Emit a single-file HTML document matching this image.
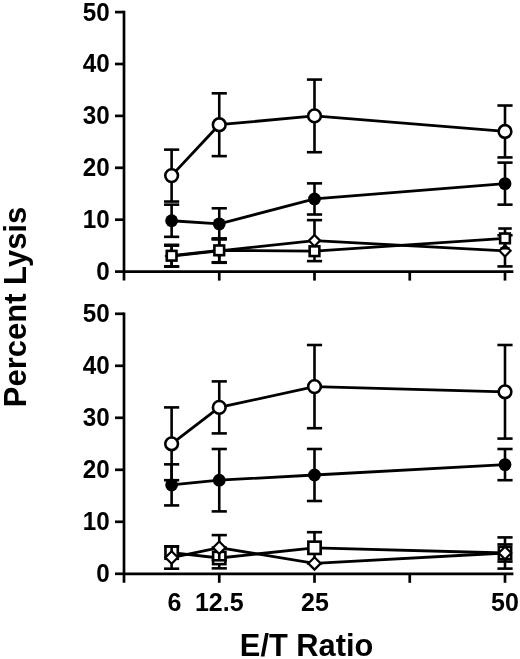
<!DOCTYPE html>
<html><head><meta charset="utf-8"><style>
html,body{margin:0;padding:0;background:#fff;width:520px;height:659px;overflow:hidden}
svg{display:block;will-change:transform}
text{font-family:"Liberation Sans",sans-serif;font-weight:bold;fill:#000}
</style></head><body>
<svg width="520" height="659" viewBox="0 0 520 659">
<g stroke="#000" stroke-linecap="butt" fill="none">
<line x1="124.00" y1="10.75" x2="124.00" y2="280.60" stroke-width="2.7"/>
<line x1="115.00" y1="271.60" x2="124.00" y2="271.60" stroke-width="2.7"/>
<line x1="115.00" y1="219.70" x2="124.00" y2="219.70" stroke-width="2.7"/>
<line x1="115.00" y1="167.80" x2="124.00" y2="167.80" stroke-width="2.7"/>
<line x1="115.00" y1="115.90" x2="124.00" y2="115.90" stroke-width="2.7"/>
<line x1="115.00" y1="64.00" x2="124.00" y2="64.00" stroke-width="2.7"/>
<line x1="115.00" y1="12.10" x2="124.00" y2="12.10" stroke-width="2.7"/>
<line x1="124.00" y1="271.60" x2="513.38" y2="271.60" stroke-width="2.7"/>
<line x1="219.25" y1="271.60" x2="219.25" y2="280.60" stroke-width="2.7"/>
<line x1="314.50" y1="271.60" x2="314.50" y2="280.60" stroke-width="2.7"/>
<line x1="409.75" y1="271.60" x2="409.75" y2="280.60" stroke-width="2.7"/>
<line x1="505.00" y1="271.60" x2="505.00" y2="280.60" stroke-width="2.7"/>
</g>
<text transform="translate(109.8,280.00) scale(0.97,1)" font-size="25" text-anchor="end">0</text>
<text transform="translate(109.8,228.10) scale(0.97,1)" font-size="25" text-anchor="end">10</text>
<text transform="translate(109.8,176.20) scale(0.97,1)" font-size="25" text-anchor="end">20</text>
<text transform="translate(109.8,124.30) scale(0.97,1)" font-size="25" text-anchor="end">30</text>
<text transform="translate(109.8,72.40) scale(0.97,1)" font-size="25" text-anchor="end">40</text>
<text transform="translate(109.8,20.50) scale(0.97,1)" font-size="25" text-anchor="end">50</text>
<g stroke="#000" fill="none" stroke-linejoin="miter">
<line x1="171.62" y1="245.65" x2="171.62" y2="266.41" stroke-width="2.6"/>
<line x1="164.03" y1="245.65" x2="179.22" y2="245.65" stroke-width="2.6"/>
<line x1="164.03" y1="266.41" x2="179.22" y2="266.41" stroke-width="2.6"/>
<line x1="219.25" y1="238.90" x2="219.25" y2="262.78" stroke-width="2.6"/>
<line x1="211.65" y1="238.90" x2="226.85" y2="238.90" stroke-width="2.6"/>
<line x1="211.65" y1="262.78" x2="226.85" y2="262.78" stroke-width="2.6"/>
<line x1="314.50" y1="220.12" x2="314.50" y2="261.12" stroke-width="2.6"/>
<line x1="306.90" y1="220.12" x2="322.10" y2="220.12" stroke-width="2.6"/>
<line x1="306.90" y1="261.12" x2="322.10" y2="261.12" stroke-width="2.6"/>
<line x1="505.00" y1="235.27" x2="505.00" y2="266.41" stroke-width="2.6"/>
<line x1="497.40" y1="235.27" x2="512.60" y2="235.27" stroke-width="2.6"/>
<line x1="497.40" y1="266.41" x2="512.60" y2="266.41" stroke-width="2.6"/>
<polyline points="171.62,256.03 219.25,250.84 314.50,240.62 505.00,250.84" stroke-width="2.8"/>
<path d="M171.62,250.43 L177.22,256.03 L171.62,261.63 L166.03,256.03 Z" fill="#fff" stroke-width="2.2"/>
<path d="M219.25,245.24 L224.85,250.84 L219.25,256.44 L213.65,250.84 Z" fill="#fff" stroke-width="2.2"/>
<path d="M314.50,235.02 L320.10,240.62 L314.50,246.22 L308.90,240.62 Z" fill="#fff" stroke-width="2.2"/>
<path d="M505.00,245.24 L510.60,250.84 L505.00,256.44 L499.40,250.84 Z" fill="#fff" stroke-width="2.2"/>
</g>
<g stroke="#000" fill="none" stroke-linejoin="miter">
<line x1="171.62" y1="244.82" x2="171.62" y2="266.62" stroke-width="2.6"/>
<line x1="164.03" y1="244.82" x2="179.22" y2="244.82" stroke-width="2.6"/>
<line x1="164.03" y1="266.62" x2="179.22" y2="266.62" stroke-width="2.6"/>
<line x1="219.25" y1="238.38" x2="219.25" y2="262.26" stroke-width="2.6"/>
<line x1="211.65" y1="238.38" x2="226.85" y2="238.38" stroke-width="2.6"/>
<line x1="211.65" y1="262.26" x2="226.85" y2="262.26" stroke-width="2.6"/>
<line x1="505.00" y1="228.52" x2="505.00" y2="248.25" stroke-width="2.6"/>
<line x1="498.25" y1="228.52" x2="511.75" y2="228.52" stroke-width="2.6"/>
<line x1="500.50" y1="248.25" x2="509.50" y2="248.25" stroke-width="2.6"/>
<polyline points="171.62,255.72 219.25,250.32 314.50,251.20 505.00,238.38" stroke-width="2.8"/>
<rect x="166.78" y="250.87" width="9.7" height="9.7" fill="#fff" stroke-width="2.6"/>
<rect x="214.40" y="245.47" width="9.7" height="9.7" fill="#fff" stroke-width="2.6"/>
<rect x="309.65" y="246.35" width="9.7" height="9.7" fill="#fff" stroke-width="2.6"/>
<rect x="500.15" y="233.53" width="9.7" height="9.7" fill="#fff" stroke-width="2.6"/>
</g>
<g stroke="#000" fill="none" stroke-linejoin="miter">
<line x1="171.62" y1="204.65" x2="171.62" y2="236.83" stroke-width="2.6"/>
<line x1="164.03" y1="204.65" x2="179.22" y2="204.65" stroke-width="2.6"/>
<line x1="164.03" y1="236.83" x2="179.22" y2="236.83" stroke-width="2.6"/>
<line x1="219.25" y1="208.28" x2="219.25" y2="239.42" stroke-width="2.6"/>
<line x1="211.65" y1="208.28" x2="226.85" y2="208.28" stroke-width="2.6"/>
<line x1="211.65" y1="239.42" x2="226.85" y2="239.42" stroke-width="2.6"/>
<line x1="314.50" y1="183.37" x2="314.50" y2="214.51" stroke-width="2.6"/>
<line x1="306.90" y1="183.37" x2="322.10" y2="183.37" stroke-width="2.6"/>
<line x1="306.90" y1="214.51" x2="322.10" y2="214.51" stroke-width="2.6"/>
<line x1="505.00" y1="162.61" x2="505.00" y2="204.65" stroke-width="2.6"/>
<line x1="497.40" y1="162.61" x2="512.60" y2="162.61" stroke-width="2.6"/>
<line x1="497.40" y1="204.65" x2="512.60" y2="204.65" stroke-width="2.6"/>
<polyline points="171.62,220.74 219.25,223.85 314.50,198.94 505.00,183.63" stroke-width="2.8"/>
<circle cx="171.62" cy="220.74" r="6.4" fill="#000" stroke="none"/>
<circle cx="219.25" cy="223.85" r="6.4" fill="#000" stroke="none"/>
<circle cx="314.50" cy="198.94" r="6.4" fill="#000" stroke="none"/>
<circle cx="505.00" cy="183.63" r="6.4" fill="#000" stroke="none"/>
</g>
<g stroke="#000" fill="none" stroke-linejoin="miter">
<line x1="171.62" y1="149.64" x2="171.62" y2="201.54" stroke-width="2.6"/>
<line x1="164.03" y1="149.64" x2="179.22" y2="149.64" stroke-width="2.6"/>
<line x1="164.03" y1="201.54" x2="179.22" y2="201.54" stroke-width="2.6"/>
<line x1="219.25" y1="93.32" x2="219.25" y2="156.12" stroke-width="2.6"/>
<line x1="211.65" y1="93.32" x2="226.85" y2="93.32" stroke-width="2.6"/>
<line x1="211.65" y1="156.12" x2="226.85" y2="156.12" stroke-width="2.6"/>
<line x1="314.50" y1="79.57" x2="314.50" y2="152.23" stroke-width="2.6"/>
<line x1="306.90" y1="79.57" x2="322.10" y2="79.57" stroke-width="2.6"/>
<line x1="306.90" y1="152.23" x2="322.10" y2="152.23" stroke-width="2.6"/>
<line x1="505.00" y1="105.52" x2="505.00" y2="157.42" stroke-width="2.6"/>
<line x1="497.40" y1="105.52" x2="512.60" y2="105.52" stroke-width="2.6"/>
<line x1="497.40" y1="157.42" x2="512.60" y2="157.42" stroke-width="2.6"/>
<polyline points="171.62,175.59 219.25,124.72 314.50,115.90 505.00,131.47" stroke-width="2.8"/>
<circle cx="171.62" cy="175.59" r="6.35" fill="#fff" stroke-width="2.6"/>
<circle cx="219.25" cy="124.72" r="6.35" fill="#fff" stroke-width="2.6"/>
<circle cx="314.50" cy="115.90" r="6.35" fill="#fff" stroke-width="2.6"/>
<circle cx="505.00" cy="131.47" r="6.35" fill="#fff" stroke-width="2.6"/>
</g>
<g stroke="#000" stroke-linecap="butt" fill="none">
<line x1="124.00" y1="312.45" x2="124.00" y2="582.80" stroke-width="2.7"/>
<line x1="115.00" y1="573.80" x2="124.00" y2="573.80" stroke-width="2.7"/>
<line x1="115.00" y1="521.80" x2="124.00" y2="521.80" stroke-width="2.7"/>
<line x1="115.00" y1="469.80" x2="124.00" y2="469.80" stroke-width="2.7"/>
<line x1="115.00" y1="417.80" x2="124.00" y2="417.80" stroke-width="2.7"/>
<line x1="115.00" y1="365.80" x2="124.00" y2="365.80" stroke-width="2.7"/>
<line x1="115.00" y1="313.80" x2="124.00" y2="313.80" stroke-width="2.7"/>
<line x1="124.00" y1="573.80" x2="513.38" y2="573.80" stroke-width="2.7"/>
<line x1="219.25" y1="573.80" x2="219.25" y2="582.80" stroke-width="2.7"/>
<line x1="314.50" y1="573.80" x2="314.50" y2="582.80" stroke-width="2.7"/>
<line x1="409.75" y1="573.80" x2="409.75" y2="582.80" stroke-width="2.7"/>
<line x1="505.00" y1="573.80" x2="505.00" y2="582.80" stroke-width="2.7"/>
</g>
<text transform="translate(109.8,582.20) scale(0.97,1)" font-size="25" text-anchor="end">0</text>
<text transform="translate(109.8,530.20) scale(0.97,1)" font-size="25" text-anchor="end">10</text>
<text transform="translate(109.8,478.20) scale(0.97,1)" font-size="25" text-anchor="end">20</text>
<text transform="translate(109.8,426.20) scale(0.97,1)" font-size="25" text-anchor="end">30</text>
<text transform="translate(109.8,374.20) scale(0.97,1)" font-size="25" text-anchor="end">40</text>
<text transform="translate(109.8,322.20) scale(0.97,1)" font-size="25" text-anchor="end">50</text>
<g stroke="#000" fill="none" stroke-linejoin="miter">
<line x1="219.25" y1="547.64" x2="219.25" y2="568.34" stroke-width="2.6"/>
<line x1="211.65" y1="547.64" x2="226.85" y2="547.64" stroke-width="2.6"/>
<line x1="211.65" y1="568.34" x2="226.85" y2="568.34" stroke-width="2.6"/>
<line x1="314.50" y1="532.20" x2="314.50" y2="563.40" stroke-width="2.6"/>
<line x1="306.90" y1="532.20" x2="322.10" y2="532.20" stroke-width="2.6"/>
<line x1="306.90" y1="563.40" x2="322.10" y2="563.40" stroke-width="2.6"/>
<line x1="505.00" y1="537.40" x2="505.00" y2="568.60" stroke-width="2.6"/>
<line x1="497.40" y1="537.40" x2="512.60" y2="537.40" stroke-width="2.6"/>
<line x1="497.40" y1="568.60" x2="512.60" y2="568.60" stroke-width="2.6"/>
<polyline points="171.62,552.64 219.25,557.99 314.50,547.80 505.00,553.00" stroke-width="2.8"/>
<rect x="165.47" y="546.49" width="12.3" height="12.3" fill="#fff" stroke-width="2.6"/>
<rect x="213.10" y="551.84" width="12.3" height="12.3" fill="#fff" stroke-width="2.6"/>
<rect x="308.35" y="541.65" width="12.3" height="12.3" fill="#fff" stroke-width="2.6"/>
<rect x="498.85" y="546.85" width="12.3" height="12.3" fill="#fff" stroke-width="2.6"/>
</g>
<g stroke="#000" fill="none" stroke-linejoin="miter">
<line x1="171.62" y1="546.34" x2="171.62" y2="568.70" stroke-width="2.6"/>
<line x1="164.03" y1="546.34" x2="179.22" y2="546.34" stroke-width="2.6"/>
<line x1="164.03" y1="568.70" x2="179.22" y2="568.70" stroke-width="2.6"/>
<line x1="219.25" y1="535.11" x2="219.25" y2="560.28" stroke-width="2.6"/>
<line x1="211.65" y1="535.11" x2="226.85" y2="535.11" stroke-width="2.6"/>
<line x1="211.65" y1="560.28" x2="226.85" y2="560.28" stroke-width="2.6"/>
<line x1="505.00" y1="544.42" x2="505.00" y2="561.58" stroke-width="2.6"/>
<line x1="497.40" y1="544.42" x2="512.60" y2="544.42" stroke-width="2.6"/>
<line x1="497.40" y1="561.58" x2="512.60" y2="561.58" stroke-width="2.6"/>
<polyline points="171.62,557.52 219.25,547.70 314.50,563.40 505.00,553.00" stroke-width="2.8"/>
<path d="M171.62,551.32 L177.82,557.52 L171.62,563.72 L165.43,557.52 Z" fill="#fff" stroke-width="2.2"/>
<path d="M219.25,541.50 L225.45,547.70 L219.25,553.90 L213.05,547.70 Z" fill="#fff" stroke-width="2.2"/>
<path d="M314.50,557.20 L320.70,563.40 L314.50,569.60 L308.30,563.40 Z" fill="#fff" stroke-width="2.2"/>
<path d="M505.00,546.80 L511.20,553.00 L505.00,559.20 L498.80,553.00 Z" fill="#fff" stroke-width="2.2"/>
</g>
<g stroke="#000" fill="none" stroke-linejoin="miter">
<line x1="171.62" y1="464.34" x2="171.62" y2="505.42" stroke-width="2.6"/>
<line x1="164.03" y1="464.34" x2="179.22" y2="464.34" stroke-width="2.6"/>
<line x1="164.03" y1="505.42" x2="179.22" y2="505.42" stroke-width="2.6"/>
<line x1="219.25" y1="449.00" x2="219.25" y2="511.40" stroke-width="2.6"/>
<line x1="211.65" y1="449.00" x2="226.85" y2="449.00" stroke-width="2.6"/>
<line x1="211.65" y1="511.40" x2="226.85" y2="511.40" stroke-width="2.6"/>
<line x1="314.50" y1="449.00" x2="314.50" y2="501.00" stroke-width="2.6"/>
<line x1="306.90" y1="449.00" x2="322.10" y2="449.00" stroke-width="2.6"/>
<line x1="306.90" y1="501.00" x2="322.10" y2="501.00" stroke-width="2.6"/>
<line x1="505.00" y1="449.00" x2="505.00" y2="480.20" stroke-width="2.6"/>
<line x1="497.40" y1="449.00" x2="512.60" y2="449.00" stroke-width="2.6"/>
<line x1="497.40" y1="480.20" x2="512.60" y2="480.20" stroke-width="2.6"/>
<polyline points="171.62,484.88 219.25,480.20 314.50,475.00 505.00,464.60" stroke-width="2.8"/>
<circle cx="171.62" cy="484.88" r="6.4" fill="#000" stroke="none"/>
<circle cx="219.25" cy="480.20" r="6.4" fill="#000" stroke="none"/>
<circle cx="314.50" cy="475.00" r="6.4" fill="#000" stroke="none"/>
<circle cx="505.00" cy="464.60" r="6.4" fill="#000" stroke="none"/>
</g>
<g stroke="#000" fill="none" stroke-linejoin="miter">
<line x1="171.62" y1="407.40" x2="171.62" y2="480.20" stroke-width="2.6"/>
<line x1="164.03" y1="407.40" x2="179.22" y2="407.40" stroke-width="2.6"/>
<line x1="164.03" y1="480.20" x2="179.22" y2="480.20" stroke-width="2.6"/>
<line x1="219.25" y1="381.40" x2="219.25" y2="433.40" stroke-width="2.6"/>
<line x1="211.65" y1="381.40" x2="226.85" y2="381.40" stroke-width="2.6"/>
<line x1="211.65" y1="433.40" x2="226.85" y2="433.40" stroke-width="2.6"/>
<line x1="314.50" y1="345.00" x2="314.50" y2="428.20" stroke-width="2.6"/>
<line x1="306.90" y1="345.00" x2="322.10" y2="345.00" stroke-width="2.6"/>
<line x1="306.90" y1="428.20" x2="322.10" y2="428.20" stroke-width="2.6"/>
<line x1="505.00" y1="345.00" x2="505.00" y2="438.60" stroke-width="2.6"/>
<line x1="497.40" y1="345.00" x2="512.60" y2="345.00" stroke-width="2.6"/>
<line x1="497.40" y1="438.60" x2="512.60" y2="438.60" stroke-width="2.6"/>
<polyline points="171.62,443.80 219.25,407.40 314.50,386.60 505.00,391.80" stroke-width="2.8"/>
<circle cx="171.62" cy="443.80" r="6.35" fill="#fff" stroke-width="2.6"/>
<circle cx="219.25" cy="407.40" r="6.35" fill="#fff" stroke-width="2.6"/>
<circle cx="314.50" cy="386.60" r="6.35" fill="#fff" stroke-width="2.6"/>
<circle cx="505.00" cy="391.80" r="6.35" fill="#fff" stroke-width="2.6"/>
</g>
<text x="174.50" y="610.50" font-size="25" text-anchor="middle" >6</text>
<text x="219.25" y="610.50" font-size="25" text-anchor="middle" >12.5</text>
<text x="315.00" y="610.50" font-size="25" text-anchor="middle" >25</text>
<text x="504.90" y="610.50" font-size="25" text-anchor="middle" >50</text>
<text x="306.60" y="655.80" font-size="32" text-anchor="middle" textLength="133.5" lengthAdjust="spacingAndGlyphs">E/T Ratio</text>
<text transform="translate(26,307) rotate(-90)" font-size="31" text-anchor="middle">Percent Lysis</text>
</svg>
</body></html>
